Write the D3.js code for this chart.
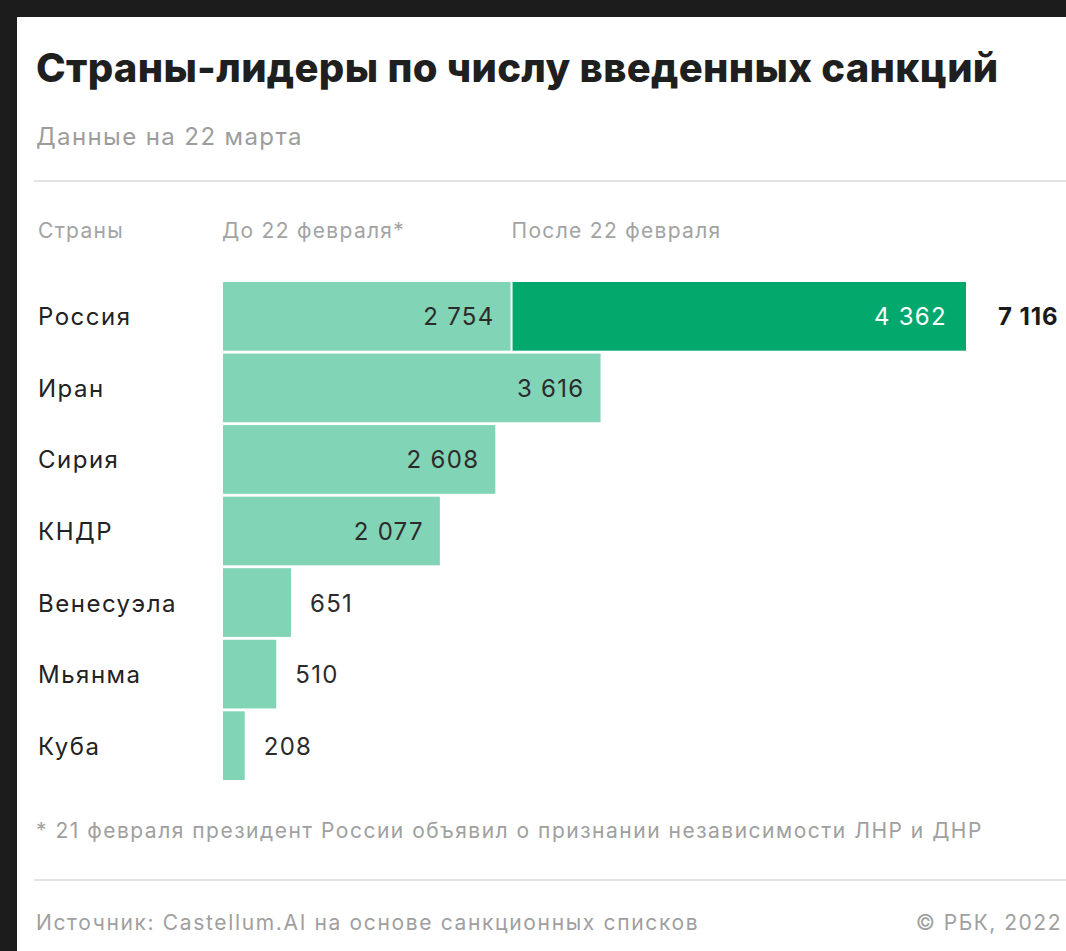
<!DOCTYPE html>
<html>
<head>
<meta charset="utf-8">
<script src="https://cdn.jsdelivr.net/npm/d3@7"></script>
<style>
  html, body { margin: 0; padding: 0; background: #1c1c1c; }
  svg { display: block; }
  text { font-family: Inter, "Noto Sans", sans-serif; }
</style>
</head>
<body>
<svg id="chart"></svg>
<script>
// Data
const countries = ['Россия', 'Иран', 'Сирия', 'КНДР', 'Венесуэла', 'Мьянма', 'Куба'];
const beforeFeb22 = [2754, 3616, 2608, 2077, 651, 510, 208];
const afterFeb22 = [4362, 0, 0, 0, 0, 0, 0];
const columnHeaders = ['Страны', 'До 22 февраля*', 'После 22 февраля'];

const W = 1066, H = 951;
const svg = d3.select('#chart').attr('width', W).attr('height', H);

// card
svg.append('rect').attr('x', 17).attr('y', 17).attr('width', W - 17).attr('height', H - 17).attr('fill', '#fff');

const fmt = d3.formatLocale({ decimal: ',', thousands: ' ', grouping: [3], currency: ['', ''] }).format(',d');

// Title / subtitle
svg.append('text')
  .attr('x', 36).attr('y', 82)
  .attr('font-size', 40).attr('font-weight', 800).attr('fill', '#1f1f1f')
  .attr('letter-spacing', 0.3)
  .text('Страны-лидеры по числу введенных санкций');
svg.append('text')
  .attr('x', 36).attr('y', 145)
  .attr('font-size', 24).attr('fill', '#9d9d9d')
  .attr('letter-spacing', 1.4)
  .text('Данные на 22 марта');

svg.append('line').attr('x1', 34).attr('x2', W).attr('y1', 181).attr('y2', 181)
  .attr('stroke', '#e3e3e3').attr('stroke-width', 2);

// Scales
const x = d3.scaleLinear().domain([0, 7116]).range([223, 966]);
const y = d3.scaleBand().domain(countries).range([282, 780]).paddingInner(0.04);

// column headers
const headerX = [38, 222, x(beforeFeb22[0]) + 1];
svg.append('g').selectAll('text')
  .data(columnHeaders)
  .enter().append('text')
  .attr('x', (d, i) => headerX[i])
  .attr('y', 238)
  .attr('font-size', 21).attr('fill', '#a3a3a3')
  .attr('letter-spacing', 1.3)
  .text(d => d);

const rows = svg.append('g').selectAll('g')
  .data(countries.map((c, i) => ({ c, b: beforeFeb22[i], a: afterFeb22[i] })))
  .enter().append('g');

const midY = d => y(d.c) + y.bandwidth() / 2;

// country labels
rows.append('text')
  .attr('x', 38).attr('y', d => midY(d) + 9)
  .attr('font-size', 24).attr('fill', '#222')
  .attr('letter-spacing', 1.5)
  .text(d => d.c);

// before bars
rows.append('rect')
  .attr('x', x(0))
  .attr('y', d => y(d.c))
  .attr('width', d => x(d.b) - x(0))
  .attr('height', y.bandwidth())
  .attr('fill', '#82d4b7');

// after bars
rows.filter(d => d.a > 0).append('rect')
  .attr('x', d => x(d.b) + 2)
  .attr('y', d => y(d.c))
  .attr('width', d => x(d.b + d.a) - x(d.b) - 2)
  .attr('height', y.bandwidth())
  .attr('fill', '#03a86c');

// before values
const inside = d => x(d.b) - x(0) > 120;
rows.append('text')
  .attr('x', d => inside(d) ? x(d.b) - 16 : x(d.b) + 19)
  .attr('text-anchor', d => inside(d) ? 'end' : 'start')
  .attr('y', d => midY(d) + 9)
  .attr('font-size', 24).attr('fill', '#2b2b2b')
  .attr('letter-spacing', 1.3)
  .text(d => fmt(d.b));

// after values
rows.filter(d => d.a > 0).append('text')
  .attr('x', d => x(d.b + d.a) - 19)
  .attr('text-anchor', 'end')
  .attr('y', d => midY(d) + 9)
  .attr('font-size', 24).attr('fill', '#fff')
  .attr('letter-spacing', 1.3)
  .text(d => fmt(d.a));

// totals
rows.filter(d => d.a > 0).append('text')
  .attr('x', 998)
  .attr('y', d => midY(d) + 9)
  .attr('font-size', 24).attr('font-weight', 700).attr('fill', '#1a1a1a')
  .attr('letter-spacing', 0.9)
  .text(d => fmt(d.b + d.a));

// footnote
svg.append('text')
  .attr('x', 36).attr('y', 838)
  .attr('font-size', 21).attr('fill', '#a0a0a0')
  .attr('letter-spacing', 1.5)
  .text('* 21 февраля президент России объявил о признании независимости ЛНР и ДНР');

svg.append('line').attr('x1', 34).attr('x2', W).attr('y1', 880).attr('y2', 880)
  .attr('stroke', '#e3e3e3').attr('stroke-width', 2);

svg.append('text')
  .attr('x', 36).attr('y', 930)
  .attr('font-size', 21).attr('fill', '#a0a0a0')
  .attr('letter-spacing', 1.65)
  .text('Источник: Castellum.AI на основе санкционных списков');
svg.append('text')
  .attr('x', 1062).attr('y', 930).attr('text-anchor', 'end')
  .attr('font-size', 21).attr('fill', '#a0a0a0')
  .attr('letter-spacing', 1.5)
  .text('© РБК, 2022');
</script>
</body>
</html>
